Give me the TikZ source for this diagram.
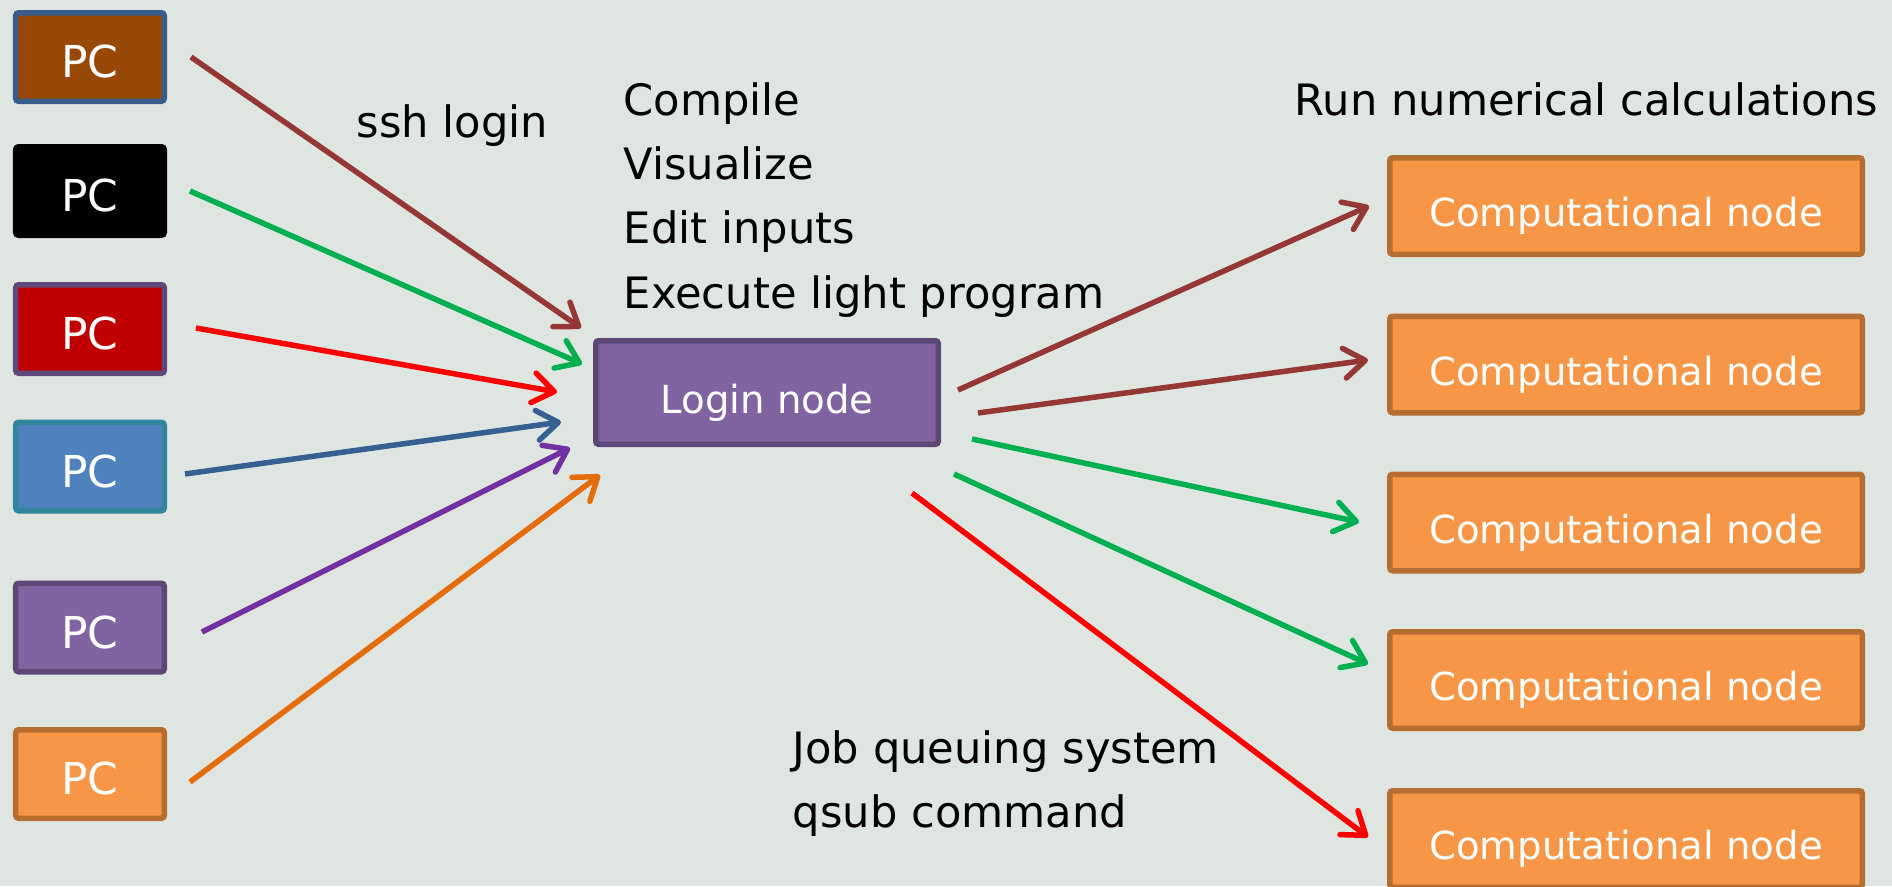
\documentclass[tikz,border=0pt]{standalone}
\usepackage{fontspec}
\setmainfont{DejaVu Sans}
\usetikzlibrary{arrows.meta}
\definecolor{bg}{RGB}{223,230,225}
\definecolor{brownfill}{HTML}{984807}
\definecolor{blueedge}{HTML}{385D8A}
\definecolor{redfill}{HTML}{C00000}
\definecolor{purpleedge}{HTML}{5F497A}
\definecolor{bluefill}{HTML}{4F81BD}
\definecolor{tealedge}{HTML}{31859C}
\definecolor{violetfill}{HTML}{8064A2}
\definecolor{violetedge}{HTML}{5C4776}
\definecolor{orangefill}{HTML}{F79646}
\definecolor{orangeedge}{HTML}{B66D31}
\definecolor{cbrown}{HTML}{953735}
\definecolor{cgreen}{HTML}{00B050}
\definecolor{cred}{HTML}{FF0000}
\definecolor{cblue}{HTML}{376092}
\definecolor{cpurple}{HTML}{7030A0}
\definecolor{corange}{HTML}{E46C0A}
\begin{document}
\begin{tikzpicture}[
  box/.style={draw, line width=0.055cm, rounded corners=0.8pt, text=white, align=center,
    text height=0.41cm, text depth=0pt, inner sep=0pt},
  pcbox/.style={box, minimum width=1.485cm, minimum height=0.885cm, font=\fontsize{12.5}{15}\selectfont},
  loginbox/.style={box, fill=violetfill, draw=violetedge, minimum width=3.425cm, minimum height=1.035cm,
    font=\fontsize{11}{13}\selectfont},
  compbox/.style={box, fill=orangefill, draw=orangeedge, minimum width=4.725cm, minimum height=0.965cm,
    font=\fontsize{11}{13}\selectfont},
  lbl/.style={anchor=base west, inner sep=0pt, text=black, font=\fontsize{12.3}{15}\selectfont},
  link/.style={line width=0.055cm, -{Straight Barb[length=6pt,width=8.5pt,round]}},
]
\fill[bg] (0,0) rectangle (18.92,-8.86);
\useasboundingbox (0,0) rectangle (18.92,-8.86);

% PCs
\node[pcbox, fill=brownfill, draw=blueedge] (pc1) at (0.90,-0.57) {PC};
\node[pcbox, fill=black, draw=black] (pc2) at (0.90,-1.91) {PC};
\node[pcbox, fill=redfill, draw=purpleedge] (pc3) at (0.90,-3.29) {PC};
\node[pcbox, fill=bluefill, draw=tealedge] (pc4) at (0.90,-4.665) {PC};
\node[pcbox, fill=violetfill, draw=violetedge] (pc5) at (0.90,-6.275) {PC};
\node[pcbox, fill=orangefill, draw=orangeedge] (pc6) at (0.90,-7.74) {PC};

% login node
\node[loginbox] (login) at (7.67,-3.925) {Login node};

% computational nodes
\node[compbox] (c1) at (16.26,-2.06) {Computational node};
\node[compbox] (c2) at (16.26,-3.645) {Computational node};
\node[compbox] (c3) at (16.26,-5.225) {Computational node};
\node[compbox] (c4) at (16.26,-6.80) {Computational node};
\node[compbox] (c5) at (16.26,-8.39) {Computational node};

% texts
\node[lbl] (ssh) at (3.56,-1.37) {ssh login};
\node[lbl] (t1) at (6.23,-1.15) {Compile};
\node[lbl] (t2) at (6.23,-1.79) {Visualize};
\node[lbl] (t3) at (6.23,-2.43) {Edit inputs};
\node[lbl] (t4) at (6.23,-3.08) {Execute light program};
\node[lbl] (run) at (12.94,-1.15) {Run numerical calculations};
\node[lbl] (job) at (7.92,-7.63) {Job queuing system};
\node[lbl] (qsub) at (7.92,-8.27) {qsub command};

% connector end points
\coordinate (s1) at (1.91,-0.57);  \coordinate (e1) at (5.81,-3.28);
\coordinate (s2) at (1.90,-1.91);  \coordinate (e2) at (5.82,-3.64);
\coordinate (s3) at (1.96,-3.28);  \coordinate (e3) at (5.57,-3.92);
\coordinate (s4) at (1.85,-4.74);  \coordinate (e4) at (5.61,-4.22);
\coordinate (s5) at (2.02,-6.32);  \coordinate (e5) at (5.70,-4.48);
\coordinate (s6) at (1.90,-7.82);  \coordinate (e6) at (6.00,-4.75);
\coordinate (r1s) at (9.58,-3.90); \coordinate (r1e) at (13.69,-2.06);
\coordinate (r2s) at (9.78,-4.13); \coordinate (r2e) at (13.68,-3.60);
\coordinate (r3s) at (9.72,-4.39); \coordinate (r3e) at (13.59,-5.22);
\coordinate (r4s) at (9.54,-4.74); \coordinate (r4e) at (13.68,-6.64);
\coordinate (r5s) at (9.12,-4.93); \coordinate (r5e) at (13.68,-8.37);

% connectors
\draw[link, cbrown] (s1) -- (e1);
\draw[link, cgreen] (s2) -- (e2);
\draw[link, cred] (s3) -- (e3);
\draw[link, cblue] (s4) -- (e4);
\draw[link, cpurple] (s5) -- (e5);
\draw[link, corange] (s6) -- (e6);
\draw[link, cbrown] (r1s) -- (r1e);
\draw[link, cbrown] (r2s) -- (r2e);
\draw[link, cgreen] (r3s) -- (r3e);
\draw[link, cgreen] (r4s) -- (r4e);
\draw[link, cred] (r5s) -- (r5e);
\end{tikzpicture}
\end{document}
